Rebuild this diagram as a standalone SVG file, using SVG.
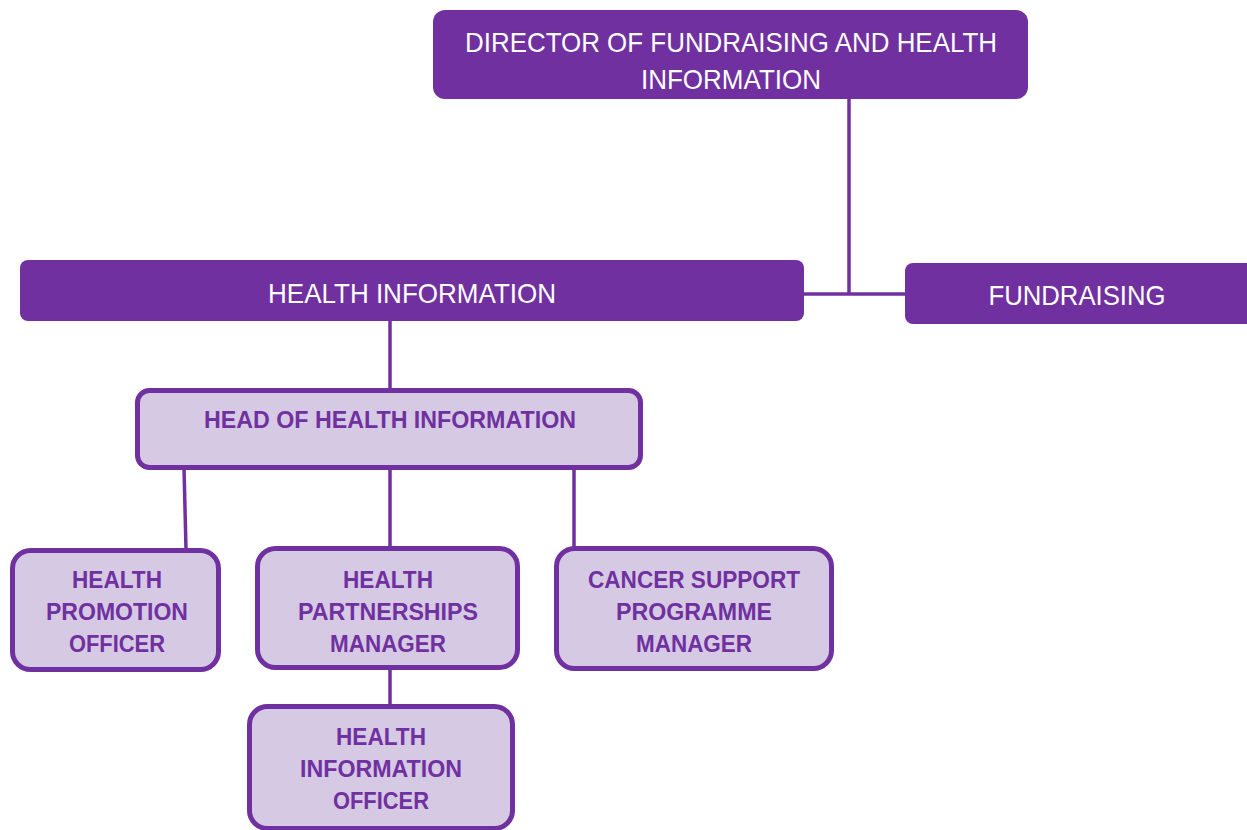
<svg xmlns="http://www.w3.org/2000/svg" width="1247" height="830" viewBox="0 0 1247 830">
<style>
.dark{fill:#7030A0;}
.light{fill:#D5C9E4;stroke:#7030A0;stroke-width:5;}
.wt{fill:#ffffff;font-family:"Liberation Sans",Arial,sans-serif;font-size:28px;text-anchor:middle;}
.pt{fill:#7030A0;font-family:"Liberation Sans",Arial,sans-serif;font-size:23.5px;font-weight:bold;text-anchor:middle;}
.conn{stroke:#7030A0;stroke-width:3.5;fill:none;}
</style>
<rect width="1247" height="830" fill="#ffffff"/>
<g id="connectors">
<line class="conn" x1="849" y1="99" x2="849" y2="295"/>
<line class="conn" x1="804" y1="294" x2="905" y2="294"/>
<line class="conn" x1="390" y1="321" x2="390" y2="390"/>
<line class="conn" x1="184" y1="468" x2="186" y2="549"/>
<line class="conn" x1="390" y1="468" x2="390" y2="548"/>
<line class="conn" x1="574" y1="468" x2="574" y2="548"/>
<line class="conn" x1="390" y1="668" x2="390" y2="706"/>
</g>
<g id="director">
<rect class="dark" x="433" y="10" width="595" height="89" rx="12"/>
<text class="wt" x="731" y="52" textLength="532" lengthAdjust="spacingAndGlyphs">DIRECTOR OF FUNDRAISING AND HEALTH</text>
<text class="wt" x="731" y="89" textLength="180" lengthAdjust="spacingAndGlyphs">INFORMATION</text>
</g>
<g id="health-information">
<rect class="dark" x="20" y="260" width="784" height="61" rx="8"/>
<text class="wt" x="412" y="303" textLength="288" lengthAdjust="spacingAndGlyphs">HEALTH INFORMATION</text>
</g>
<g id="fundraising">
<rect class="dark" x="905" y="263" width="350" height="61" rx="8"/>
<text class="wt" x="1077" y="305" textLength="177" lengthAdjust="spacingAndGlyphs">FUNDRAISING</text>
</g>
<g id="head">
<rect class="light" x="137.5" y="390.5" width="503" height="77" rx="12"/>
<text class="pt" x="390" y="428" textLength="372" lengthAdjust="spacingAndGlyphs">HEAD OF HEALTH INFORMATION</text>
</g>
<g id="hpo">
<rect class="light" x="12.5" y="550.5" width="206" height="119" rx="18"/>
<text class="pt" x="117" y="588" textLength="90" lengthAdjust="spacingAndGlyphs">HEALTH</text>
<text class="pt" x="117" y="620" textLength="142" lengthAdjust="spacingAndGlyphs">PROMOTION</text>
<text class="pt" x="117" y="652" textLength="96" lengthAdjust="spacingAndGlyphs">OFFICER</text>
</g>
<g id="hpm">
<rect class="light" x="257.5" y="548.5" width="260" height="119" rx="18"/>
<text class="pt" x="388" y="588" textLength="90" lengthAdjust="spacingAndGlyphs">HEALTH</text>
<text class="pt" x="388" y="620" textLength="180" lengthAdjust="spacingAndGlyphs">PARTNERSHIPS</text>
<text class="pt" x="388" y="652" textLength="116" lengthAdjust="spacingAndGlyphs">MANAGER</text>
</g>
<g id="cspm">
<rect class="light" x="556.5" y="548.5" width="275" height="120" rx="18"/>
<text class="pt" x="694" y="588" textLength="212" lengthAdjust="spacingAndGlyphs">CANCER SUPPORT</text>
<text class="pt" x="694" y="620" textLength="156" lengthAdjust="spacingAndGlyphs">PROGRAMME</text>
<text class="pt" x="694" y="652" textLength="116" lengthAdjust="spacingAndGlyphs">MANAGER</text>
</g>
<g id="hio">
<rect class="light" x="249.5" y="706.5" width="263" height="122" rx="18"/>
<text class="pt" x="381" y="745" textLength="90" lengthAdjust="spacingAndGlyphs">HEALTH</text>
<text class="pt" x="381" y="777" textLength="162" lengthAdjust="spacingAndGlyphs">INFORMATION</text>
<text class="pt" x="381" y="809" textLength="96" lengthAdjust="spacingAndGlyphs">OFFICER</text>
</g>
</svg>
